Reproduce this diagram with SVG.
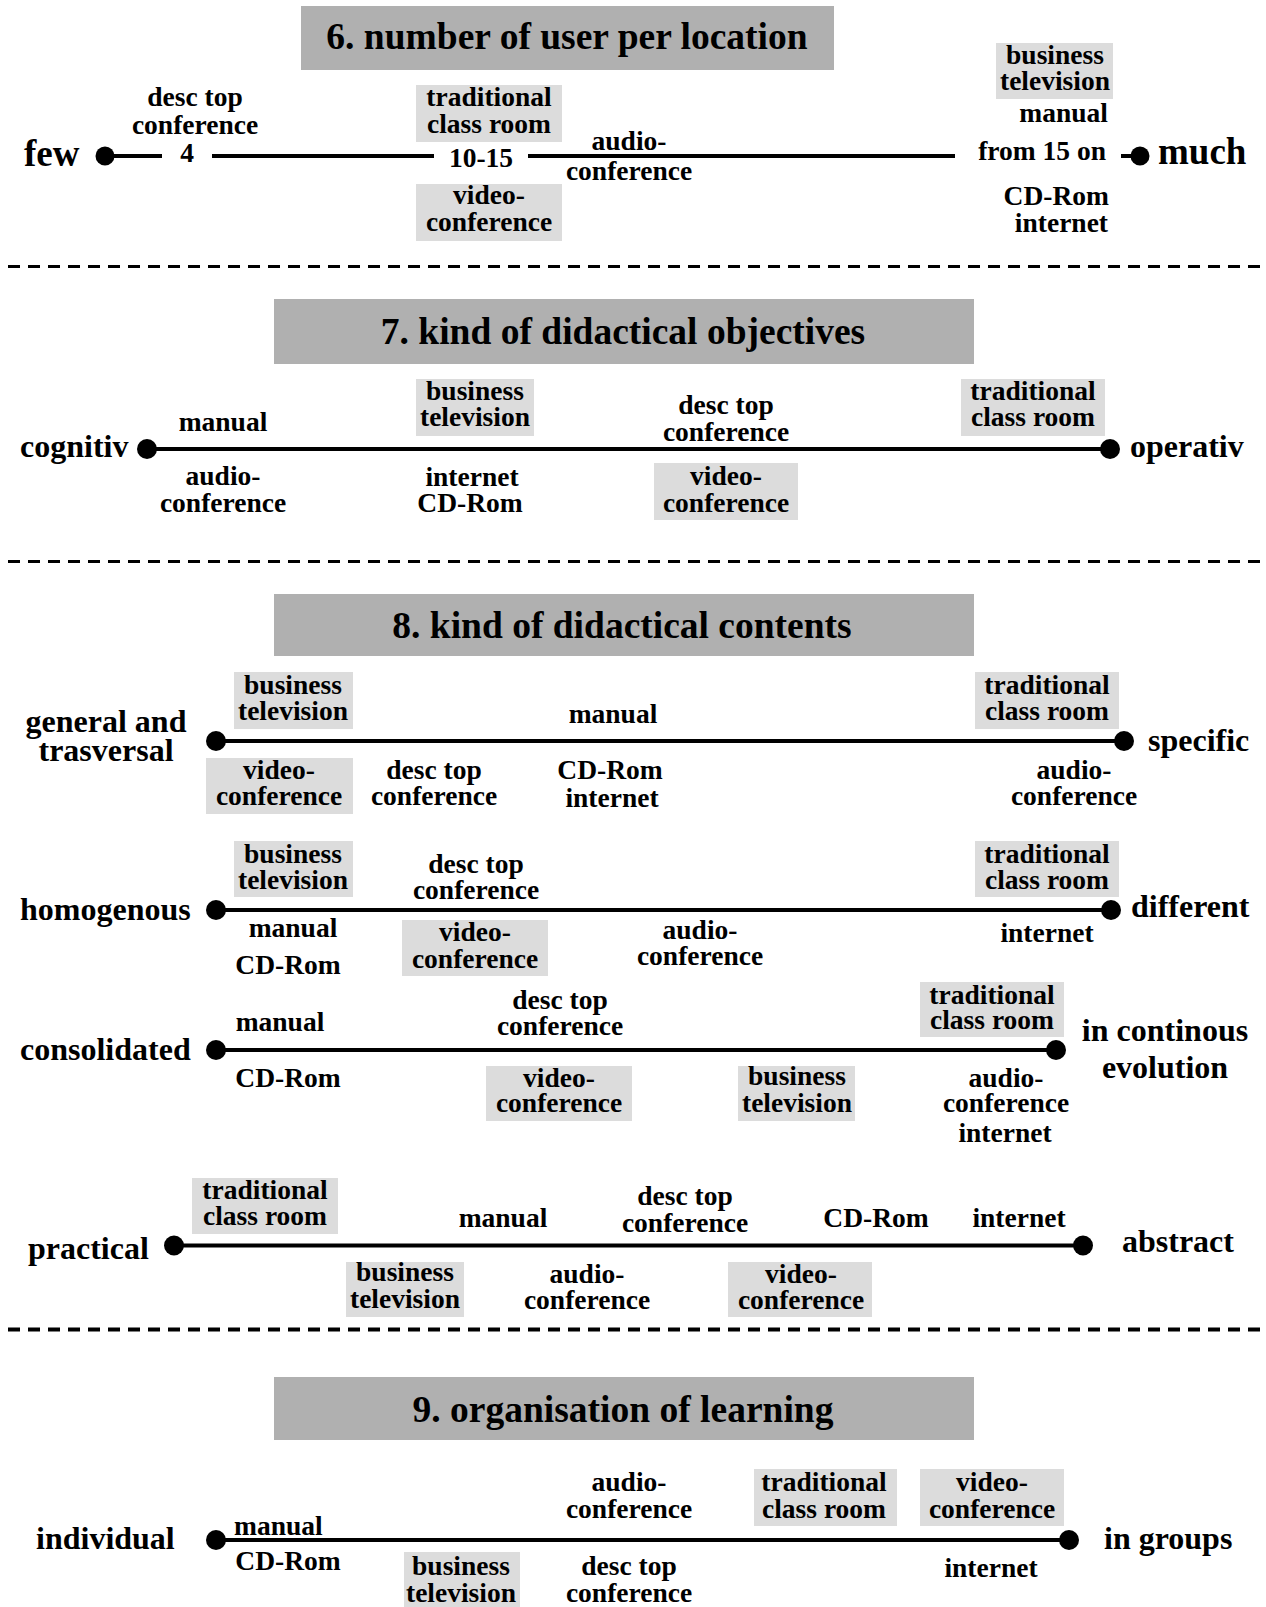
<svg xmlns="http://www.w3.org/2000/svg" width="1266" height="1607" viewBox="0 0 1266 1607">
<style>
text{font-family:"Liberation Serif","Times New Roman",serif;font-weight:bold;fill:#000}
.lbl{font-size:27.5px;text-anchor:middle}
.lblr{font-size:27.5px;text-anchor:end}
.lbll{font-size:27.5px;text-anchor:start}
.end{font-size:32px}
.endc{font-size:32px;text-anchor:middle}
.big{font-size:37px}
.title{font-size:37.5px;text-anchor:middle}
.box{fill:#dcdcdc}
.tbox{fill:#b0b0b0}
.axis{stroke:#000;stroke-width:4;fill:none}
.dot{fill:#000}
.sep{stroke:#000;stroke-width:3;stroke-dasharray:12 8;fill:none}
</style>
<rect width="1266" height="1607" fill="#fff"/>

<g id="separators">
<line class="sep" x1="8" y1="266.5" x2="1260" y2="266.5"/>
<line class="sep" x1="8" y1="561.5" x2="1260" y2="561.5"/>
<line class="sep" x1="8" y1="1329.5" x2="1260" y2="1329.5" style="stroke-width:4"/>
</g>

<g id="connectors">
<!-- section 6 -->
<line class="axis" x1="105" y1="156" x2="162" y2="156"/>
<line class="axis" x1="212" y1="156" x2="434" y2="156"/>
<line class="axis" x1="528" y1="156" x2="955" y2="156"/>
<line class="axis" x1="1121" y1="156" x2="1140" y2="156"/>
<circle class="dot" cx="105" cy="156" r="9.5"/>
<circle class="dot" cx="1140" cy="156" r="9.5"/>
<!-- section 7 -->
<line class="axis" x1="147" y1="449" x2="1110" y2="449"/>
<circle class="dot" cx="147" cy="449" r="10"/>
<circle class="dot" cx="1110" cy="449" r="10"/>
<!-- section 8 -->
<line class="axis" x1="216" y1="741" x2="1124" y2="741"/>
<circle class="dot" cx="216" cy="741" r="10"/>
<circle class="dot" cx="1124" cy="741" r="10"/>
<line class="axis" x1="216" y1="910" x2="1111" y2="910"/>
<circle class="dot" cx="216" cy="910" r="10"/>
<circle class="dot" cx="1111" cy="910" r="10"/>
<line class="axis" x1="216" y1="1050" x2="1056" y2="1050"/>
<circle class="dot" cx="216" cy="1050" r="10"/>
<circle class="dot" cx="1056" cy="1050" r="10"/>
<line class="axis" x1="174" y1="1245.5" x2="1083" y2="1245.5"/>
<circle class="dot" cx="174" cy="1245.5" r="10"/>
<circle class="dot" cx="1083" cy="1245.5" r="10"/>
<!-- section 9 -->
<line class="axis" x1="216" y1="1540" x2="1069" y2="1540"/>
<circle class="dot" cx="216" cy="1540" r="10"/>
<circle class="dot" cx="1069" cy="1540" r="10"/>
</g>

<!-- ============ SECTION 6 ============ -->
<g id="title6"><rect class="tbox" x="301" y="6" width="533" height="64"/><text class="title" x="567" y="49">6. number of user per location</text></g>
<g id="s6-few"><text class="big" x="24" y="166">few</text></g>
<g id="s6-much"><text class="big" x="1158" y="164">much</text></g>
<g id="s6-desctop"><text class="lbl"><tspan x="195" y="106">desc top</tspan><tspan x="195" y="134">conference</tspan></text></g>
<g id="s6-4"><text class="lbl" x="187" y="162">4</text></g>
<g id="s6-traditional"><rect class="box" x="416" y="85" width="146" height="57"/><text class="lbl"><tspan x="489" y="106">traditional</tspan><tspan x="489" y="133">class room</tspan></text></g>
<g id="s6-1015"><text class="lbl" x="481" y="167">10-15</text></g>
<g id="s6-video"><rect class="box" x="416" y="184" width="146" height="57"/><text class="lbl"><tspan x="489" y="204">video-</tspan><tspan x="489" y="231">conference</tspan></text></g>
<g id="s6-audio"><text class="lbl"><tspan x="629" y="150">audio-</tspan><tspan x="629" y="180">conference</tspan></text></g>
<g id="s6-business"><rect class="box" x="996" y="43" width="117" height="56"/><text class="lbl"><tspan x="1055" y="64">business</tspan><tspan x="1055" y="90">television</tspan></text></g>
<g id="s6-manual"><text class="lblr" x="1108" y="122">manual</text></g>
<g id="s6-from15"><text class="lblr" x="1106" y="160">from 15 on</text></g>
<g id="s6-cdrom"><text class="lblr"><tspan x="1109" y="205">CD-Rom</tspan><tspan x="1108" y="232">internet</tspan></text></g>

<!-- ============ SECTION 7 ============ -->
<g id="title7"><rect class="tbox" x="274" y="299" width="700" height="65"/><text class="title" x="623" y="344">7. kind of didactical objectives</text></g>
<g id="s7-cognitiv"><text class="end" x="20" y="457">cognitiv</text></g>
<g id="s7-operativ"><text class="end" x="1130" y="457">operativ</text></g>
<g id="s7-manual"><text class="lbl" x="223" y="431">manual</text></g>
<g id="s7-audio"><text class="lbl"><tspan x="223" y="485">audio-</tspan><tspan x="223" y="512">conference</tspan></text></g>
<g id="s7-business"><rect class="box" x="416" y="379" width="118" height="57"/><text class="lbl"><tspan x="475" y="400">business</tspan><tspan x="475" y="426">television</tspan></text></g>
<g id="s7-internet"><text class="lbl"><tspan x="472" y="486">internet</tspan><tspan x="470" y="512">CD-Rom</tspan></text></g>
<g id="s7-desctop"><text class="lbl"><tspan x="726" y="414">desc top</tspan><tspan x="726" y="441">conference</tspan></text></g>
<g id="s7-video"><rect class="box" x="654" y="463" width="144" height="57"/><text class="lbl"><tspan x="726" y="485">video-</tspan><tspan x="726" y="512">conference</tspan></text></g>
<g id="s7-traditional"><rect class="box" x="961" y="379" width="144" height="57"/><text class="lbl"><tspan x="1033" y="400">traditional</tspan><tspan x="1033" y="426">class room</tspan></text></g>

<!-- ============ SECTION 8 ============ -->
<g id="title8"><rect class="tbox" x="274" y="594" width="700" height="62"/><text class="title" x="622" y="638">8. kind of didactical contents</text></g>

<!-- row 1 -->
<g id="s8a-general"><text class="endc"><tspan x="106" y="732">general and</tspan><tspan x="106" y="761">trasversal</tspan></text></g>
<g id="s8a-specific"><text class="end" x="1148" y="751">specific</text></g>
<g id="s8a-business"><rect class="box" x="234" y="672" width="119" height="57"/><text class="lbl"><tspan x="293" y="694">business</tspan><tspan x="293" y="720">television</tspan></text></g>
<g id="s8a-manual"><text class="lbl" x="613" y="723">manual</text></g>
<g id="s8a-video"><rect class="box" x="206" y="758" width="147" height="56"/><text class="lbl"><tspan x="279" y="779">video-</tspan><tspan x="279" y="805">conference</tspan></text></g>
<g id="s8a-desctop"><text class="lbl"><tspan x="434" y="779">desc top</tspan><tspan x="434" y="805">conference</tspan></text></g>
<g id="s8a-cdrom"><text class="lbl"><tspan x="610" y="779">CD-Rom</tspan><tspan x="612" y="807">internet</tspan></text></g>
<g id="s8a-traditional"><rect class="box" x="975" y="672" width="144" height="57"/><text class="lbl"><tspan x="1047" y="694">traditional</tspan><tspan x="1047" y="720">class room</tspan></text></g>
<g id="s8a-audio"><text class="lbl"><tspan x="1074" y="779">audio-</tspan><tspan x="1074" y="805">conference</tspan></text></g>

<!-- row 2 -->
<g id="s8b-homogenous"><text class="end" x="20" y="920">homogenous</text></g>
<g id="s8b-different"><text class="end" x="1131" y="917">different</text></g>
<g id="s8b-business"><rect class="box" x="234" y="841" width="119" height="56"/><text class="lbl"><tspan x="293" y="863">business</tspan><tspan x="293" y="889">television</tspan></text></g>
<g id="s8b-desctop"><text class="lbl"><tspan x="476" y="873">desc top</tspan><tspan x="476" y="899">conference</tspan></text></g>
<g id="s8b-manual"><text class="lbl" x="293" y="937">manual</text></g>
<g id="s8b-cdrom"><text class="lbl" x="288" y="974">CD-Rom</text></g>
<g id="s8b-video"><rect class="box" x="402" y="920" width="146" height="56"/><text class="lbl"><tspan x="475" y="941">video-</tspan><tspan x="475" y="968">conference</tspan></text></g>
<g id="s8b-audio"><text class="lbl"><tspan x="700" y="939">audio-</tspan><tspan x="700" y="965">conference</tspan></text></g>
<g id="s8b-traditional"><rect class="box" x="975" y="841" width="144" height="56"/><text class="lbl"><tspan x="1047" y="863">traditional</tspan><tspan x="1047" y="889">class room</tspan></text></g>
<g id="s8b-internet"><text class="lbl" x="1047" y="942">internet</text></g>

<!-- row 3 -->
<g id="s8c-consolidated"><text class="end" x="20" y="1060">consolidated</text></g>
<g id="s8c-evolution"><text class="endc"><tspan x="1165" y="1041">in continous</tspan><tspan x="1165" y="1078">evolution</tspan></text></g>
<g id="s8c-manual"><text class="lbl" x="280" y="1031">manual</text></g>
<g id="s8c-cdrom"><text class="lbl" x="288" y="1087">CD-Rom</text></g>
<g id="s8c-desctop"><text class="lbl"><tspan x="560" y="1009">desc top</tspan><tspan x="560" y="1035">conference</tspan></text></g>
<g id="s8c-video"><rect class="box" x="486" y="1066" width="146" height="55"/><text class="lbl"><tspan x="559" y="1087">video-</tspan><tspan x="559" y="1112">conference</tspan></text></g>
<g id="s8c-business"><rect class="box" x="738" y="1066" width="117" height="55"/><text class="lbl"><tspan x="797" y="1085">business</tspan><tspan x="797" y="1112">television</tspan></text></g>
<g id="s8c-traditional"><rect class="box" x="920" y="982" width="144" height="55"/><text class="lbl"><tspan x="992" y="1004">traditional</tspan><tspan x="992" y="1029">class room</tspan></text></g>
<g id="s8c-audio"><text class="lbl"><tspan x="1006" y="1087">audio-</tspan><tspan x="1006" y="1112">conference</tspan><tspan x="1005" y="1142">internet</tspan></text></g>

<!-- row 4 -->
<g id="s8d-practical"><text class="end" x="28" y="1259">practical</text></g>
<g id="s8d-abstract"><text class="end" x="1122" y="1252">abstract</text></g>
<g id="s8d-traditional"><rect class="box" x="192" y="1178" width="146" height="56"/><text class="lbl"><tspan x="265" y="1199">traditional</tspan><tspan x="265" y="1225">class room</tspan></text></g>
<g id="s8d-manual"><text class="lbl" x="503" y="1227">manual</text></g>
<g id="s8d-desctop"><text class="lbl"><tspan x="685" y="1205">desc top</tspan><tspan x="685" y="1232">conference</tspan></text></g>
<g id="s8d-cdrom"><text class="lbl" x="876" y="1227">CD-Rom</text></g>
<g id="s8d-internet"><text class="lbl" x="1019" y="1227">internet</text></g>
<g id="s8d-business"><rect class="box" x="346" y="1262" width="118" height="55"/><text class="lbl"><tspan x="405" y="1281">business</tspan><tspan x="405" y="1308">television</tspan></text></g>
<g id="s8d-audio"><text class="lbl"><tspan x="587" y="1283">audio-</tspan><tspan x="587" y="1309">conference</tspan></text></g>
<g id="s8d-video"><rect class="box" x="728" y="1262" width="144" height="55"/><text class="lbl"><tspan x="801" y="1283">video-</tspan><tspan x="801" y="1309">conference</tspan></text></g>

<!-- ============ SECTION 9 ============ -->
<g id="title9"><rect class="tbox" x="274" y="1377" width="700" height="63"/><text class="title" x="623" y="1422">9. organisation of learning</text></g>
<g id="s9-individual"><text class="end" x="36" y="1549">individual</text></g>
<g id="s9-groups"><text class="end" x="1104" y="1549">in groups</text></g>
<g id="s9-manual"><text class="lbll" x="234" y="1535">manual</text></g>
<g id="s9-cdrom"><text class="lbl" x="288" y="1570">CD-Rom</text></g>
<g id="s9-business"><rect class="box" x="404" y="1552" width="116" height="55"/><text class="lbl"><tspan x="461" y="1575">business</tspan><tspan x="461" y="1602">television</tspan></text></g>
<g id="s9-audio"><text class="lbl"><tspan x="629" y="1491">audio-</tspan><tspan x="629" y="1518">conference</tspan></text></g>
<g id="s9-desctop"><text class="lbl"><tspan x="629" y="1575">desc top</tspan><tspan x="629" y="1602">conference</tspan></text></g>
<g id="s9-traditional"><rect class="box" x="754" y="1469" width="143" height="57"/><text class="lbl"><tspan x="824" y="1491">traditional</tspan><tspan x="824" y="1518">class room</tspan></text></g>
<g id="s9-video"><rect class="box" x="920" y="1469" width="144" height="57"/><text class="lbl"><tspan x="992" y="1491">video-</tspan><tspan x="992" y="1518">conference</tspan></text></g>
<g id="s9-internet"><text class="lbl" x="991" y="1577">internet</text></g>
</svg>
